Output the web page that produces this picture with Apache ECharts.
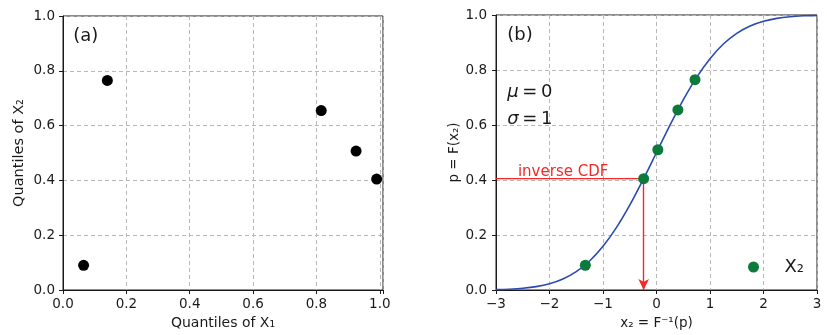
<!DOCTYPE html>
<html>
<head>
<meta charset="utf-8">
<script src="https://cdn.jsdelivr.net/npm/echarts@6/dist/echarts.min.js"></script>
<style>
  html, body { margin: 0; padding: 0; background: #fff; }
  #chart { width: 827px; height: 335px; }
</style>
</head>
<body>
<div id="chart"></div>
<script>
// Panel (a): quantile pairs of X1 and X2
const quantX1 = [0.065, 0.14, 0.815, 0.925, 0.99];
const quantX2 = [0.09, 0.765, 0.655, 0.507, 0.405];

// Panel (b): standard normal CDF, sampled
const cdfX = [-3, -2.75, -2.5, -2.25, -2, -1.75, -1.5, -1.25, -1, -0.75, -0.5, -0.25,
              0, 0.25, 0.5, 0.75, 1, 1.25, 1.5, 1.75, 2, 2.25, 2.5, 2.75, 3];
const cdfP = [0.0013, 0.003, 0.0062, 0.0122, 0.0228, 0.0401, 0.0668, 0.1056, 0.1587, 0.2266,
              0.3085, 0.4013, 0.5, 0.5987, 0.6915, 0.7734, 0.8413, 0.8944, 0.9332, 0.9599,
              0.9772, 0.9878, 0.9938, 0.997, 0.9987];

// Panel (b): X2 samples mapped through the inverse CDF
const sampleX = [-1.33, -0.24, 0.025, 0.40, 0.72];
const sampleP = [0.09, 0.405, 0.51, 0.655, 0.765];

// Highlighted inverse-CDF lookup
const lookupP = 0.405;
const lookupX = -0.24;

const FONT = 'DejaVu Sans';
const INK = '#1a1a1a';
const GREEN = '#0b7a3a';
const BLUE = '#2b4ab0';
const RED = '#f22a2a';

const gridLine = { show: true, lineStyle: { color: '#b8b8b8', type: [4, 3], width: 1 } };
const axisBase = {
  axisLine: { show: true, onZero: false, lineStyle: { color: INK, width: 1 } },
  axisTick: { show: true, inside: false, length: 4, lineStyle: { color: INK } },
  splitLine: gridLine
};

function fmt1(v) {
  const t = Math.round(v * 10) / 10;
  return Math.abs(v - t) < 1e-6 ? t.toFixed(1) : '';
}

function textPoint(xy, text, style, gridIdx) {
  return {
    type: 'scatter', xAxisIndex: gridIdx, yAxisIndex: gridIdx,
    data: [xy], symbolSize: 0, silent: true, z: 5,
    itemStyle: { opacity: 1 },
    label: Object.assign({ show: true, position: 'right', distance: 0,
      formatter: text, fontFamily: FONT, color: INK }, style)
  };
}

const greekRich = { i: { fontStyle: 'italic', fontSize: 18, fontFamily: FONT, color: INK } };

const chart = echarts.init(document.getElementById('chart'));
chart.setOption({
  backgroundColor: '#fff',
  animation: false,
  textStyle: { fontFamily: FONT },
  grid: [
    { left: 63, right: 444, top: 16, bottom: 45, show: true, borderColor: INK, borderWidth: 1 },
    { left: 496, right: 10, top: 15, bottom: 45, show: true, borderColor: INK, borderWidth: 1 }
  ],
  xAxis: [
    Object.assign({}, axisBase, {
      gridIndex: 0, type: 'value', min: 0, max: 1.01, interval: 0.2,
      name: 'Quantiles of X₁', nameLocation: 'middle', nameGap: 24,
      nameTextStyle: { fontSize: 14, color: INK, fontFamily: FONT },
      axisLabel: { fontSize: 13.5, color: INK, margin: 7, formatter: fmt1, fontFamily: FONT }
    }),
    Object.assign({}, axisBase, {
      gridIndex: 1, type: 'value', min: -3, max: 3, interval: 1,
      name: 'x₂ = F⁻¹(p)', nameLocation: 'middle', nameGap: 26,
      nameTextStyle: { fontSize: 13.5, color: INK, fontFamily: FONT },
      axisLabel: { fontSize: 13.5, color: INK, margin: 7, fontFamily: FONT,
        formatter: v => (v < 0 ? '\u2212' + Math.abs(v) : String(v)) }
    })
  ],
  yAxis: [
    Object.assign({}, axisBase, {
      gridIndex: 0, type: 'value', min: 0, max: 1, interval: 0.2,
      name: 'Quantiles of X₂', nameLocation: 'middle', nameGap: 36,
      nameTextStyle: { fontSize: 14.5, color: INK, fontFamily: FONT },
      axisLabel: { fontSize: 13.5, color: INK, margin: 8, formatter: fmt1, fontFamily: FONT }
    }),
    Object.assign({}, axisBase, {
      gridIndex: 1, type: 'value', min: 0, max: 1, interval: 0.2,
      name: 'p = F(x₂)', nameLocation: 'middle', nameGap: 35,
      nameTextStyle: { fontSize: 13.5, color: INK, fontFamily: FONT },
      axisLabel: { fontSize: 13.5, color: INK, margin: 9, formatter: fmt1, fontFamily: FONT }
    })
  ],
  legend: {
    left: 743, top: 253,
    data: [{ name: 'X₂', icon: 'circle' }],
    itemWidth: 52, itemHeight: 11,
    textStyle: { fontSize: 18, color: INK, fontFamily: FONT },
    selectedMode: false
  },
  series: [
    {
      type: 'scatter', xAxisIndex: 0, yAxisIndex: 0,
      data: quantX1.map((x, i) => [x, quantX2[i]]),
      symbolSize: 11, itemStyle: { color: '#000', opacity: 1 }, z: 4
    },
    {
      type: 'line', xAxisIndex: 1, yAxisIndex: 1,
      data: cdfX.map((x, i) => [x, cdfP[i]]),
      smooth: 0.3, showSymbol: false, symbol: 'none',
      lineStyle: { color: BLUE, width: 1.6 }, z: 3, silent: true
    },
    {
      type: 'line', xAxisIndex: 1, yAxisIndex: 1,
      data: [[-3, lookupP], [lookupX, lookupP]],
      showSymbol: false, symbol: 'none',
      lineStyle: { color: RED, width: 1.4 }, z: 3, silent: true,
      markLine: {
        silent: true, symbol: ['none', 'arrow'], symbolSize: [8, 11],
        label: { show: false },
        lineStyle: { color: RED, width: 1.4, type: 'solid' },
        data: [[{ coord: [lookupX, lookupP] }, { coord: [lookupX, 0] }]]
      }
    },
    {
      name: 'X₂', type: 'scatter', xAxisIndex: 1, yAxisIndex: 1,
      data: sampleX.map((x, i) => [x, sampleP[i]]),
      symbolSize: 11, itemStyle: { color: GREEN, opacity: 1 }, z: 6
    },
    textPoint([0.032, 0.925], '(a)', { fontSize: 18 }, 0),
    textPoint([-2.79, 0.925], '(b)', { fontSize: 18 }, 1),
    textPoint([-2.79, 0.72], '{i|μ}\u2009=\u20090', { fontSize: 18, rich: greekRich }, 1),
    textPoint([-2.79, 0.62], '{i|σ}\u2009=\u20091', { fontSize: 18, rich: greekRich }, 1),
    textPoint([-2.59, 0.43], 'inverse CDF', { fontSize: 15, color: RED }, 1)
  ]
});
</script>
</body>
</html>
